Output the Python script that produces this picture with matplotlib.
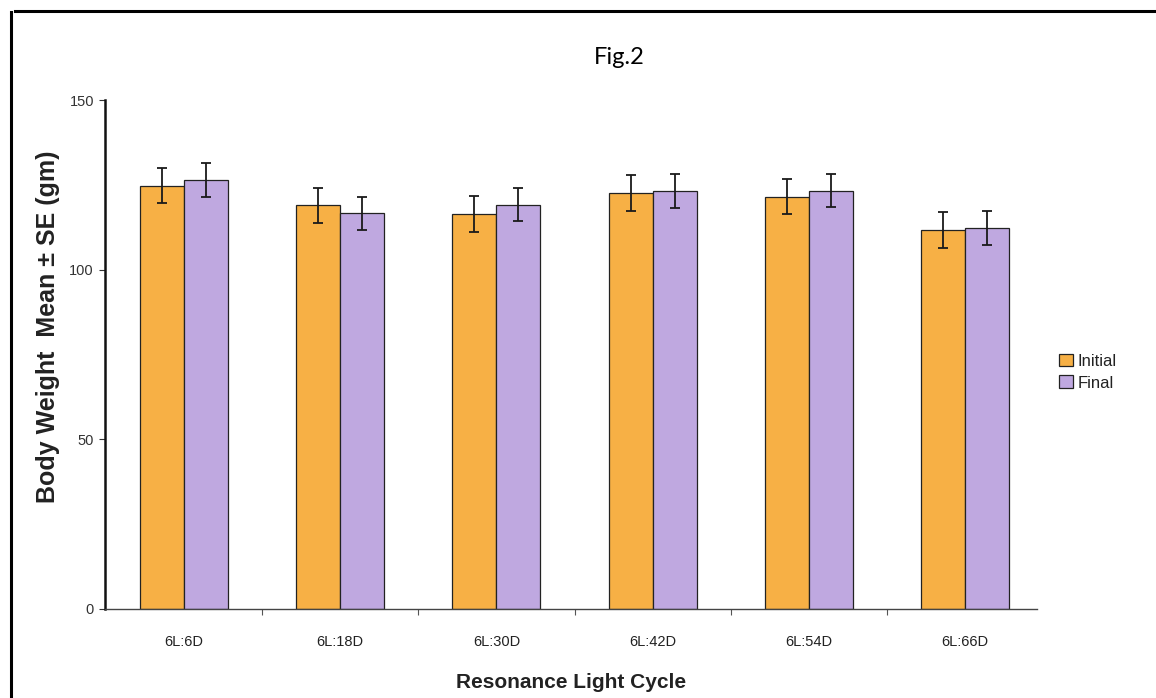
import matplotlib
matplotlib.use("Agg")
import matplotlib.pyplot as plt
import numpy as np
from matplotlib.lines import Line2D

categories = ["6L:6D", "6L:18D", "6L:30D", "6L:42D", "6L:54D", "6L:66D"]
initial = [124.7, 119.0, 116.3, 122.5, 121.5, 111.7]
final = [126.4, 116.6, 119.1, 123.1, 123.3, 112.3]
initial_se = [5.2, 5.2, 5.3, 5.3, 5.2, 5.3]
final_se = [4.9, 4.9, 4.9, 5.0, 4.9, 4.9]
series_names = ["Initial", "Final"]
yticks = [0, 50, 100, 150]

plt.rcParams['font.family'] = ['Liberation Sans', 'DejaVu Sans']

fig = plt.figure(figsize=(11.56, 6.98), dpi=100)
ax = fig.add_axes([105/1156, 89/698, (1037-105)/1156, 509/698])

x = np.arange(len(categories))
w = 0.282
c_init = "#F7B045"
c_fin = "#BFA8E0"
b1 = ax.bar(x - w/2, initial, w, color=c_init, edgecolor="#222222", linewidth=0.9,
            label=series_names[0])
b2 = ax.bar(x + w/2, final, w, color=c_fin, edgecolor="#222222", linewidth=0.9,
            label=series_names[1])
ax.errorbar(x - w/2, initial, yerr=initial_se, fmt="none", ecolor="#1a1a1a",
            elinewidth=1.3, capsize=3.3, capthick=1.3)
ax.errorbar(x + w/2, final, yerr=final_se, fmt="none", ecolor="#1a1a1a",
            elinewidth=1.3, capsize=3.3, capthick=1.3)

ax.set_xlim(-0.506, 5.461)
ax.set_ylim(0, 150)
ax.set_yticks(yticks)
ax.set_yticklabels([str(v) for v in yticks], fontsize=10.5, color="#222222")
ax.tick_params(axis="y", direction="out", length=4, width=0.8, pad=4, colors="#333333")
ax.set_xticks(x)
ax.set_xticklabels(categories, fontsize=10.5, color="#222222")
ax.tick_params(axis="x", which="major", length=0, pad=19)
ax.set_xticks(x[:-1] + 0.5, minor=True)
ax.tick_params(axis="x", which="minor", direction="out", length=4, width=0.8, colors="#555555")

for s in ["top", "right"]:
    ax.spines[s].set_visible(False)
ax.spines["left"].set_linewidth(1.8)
ax.spines["left"].set_color("#111111")
ax.spines["bottom"].set_linewidth(1.0)
ax.spines["bottom"].set_color("#444444")

fig.text(48/1156, 1 - 327/698, "Body Weight  Mean \u00b1 SE (gm)", rotation=90,
         ha="center", va="center", fontsize=18, fontweight="bold", color="#222222")
fig.text(571/1156, 1 - 682/698, "Resonance Light Cycle", ha="center", va="center",
         fontsize=15, fontweight="bold", color="#222222")
fig.text(619/1156, 1 - 58/698, "Fig.2", ha="center", va="center",
         fontsize=17, family=["Lato", "DejaVu Sans"], color="black")

leg = fig.legend(handles=[b1, b2], labels=series_names, loc="center left",
                 bbox_to_anchor=(1051/1156, 1 - 372/698), frameon=False,
                 fontsize=12, handlelength=0.8, handleheight=0.8,
                 handletextpad=0.3, labelspacing=0.4, borderpad=0)
for t in leg.get_texts():
    t.set_color("#222222")

# page frame
fig.add_artist(Line2D([15/1156, 1], [1 - 11/698, 1 - 11/698], color="black",
                      linewidth=2.2, transform=fig.transFigure))
fig.add_artist(Line2D([11/1156, 11/1156], [0, 1 - 12/698], color="black",
                      linewidth=2.2, transform=fig.transFigure))

fig.savefig("out.png", dpi=100)
